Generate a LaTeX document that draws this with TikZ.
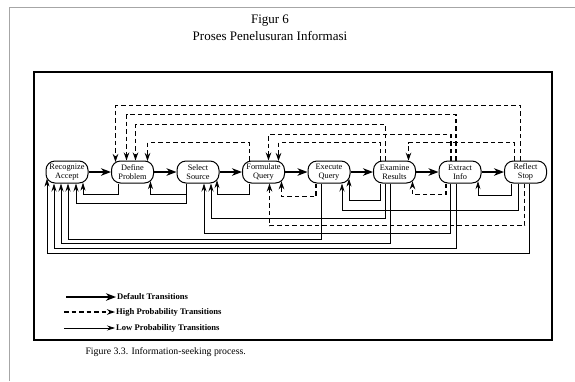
\documentclass[tikz,border=0pt]{standalone}
\usepackage{fontspec}
\setmainfont{Liberation Serif}
\usetikzlibrary{arrows.meta,positioning,calc}
\tikzset{
	>=Stealth,
	stage/.style={
		rectangle,
		draw,
		line width=1pt,
		rounded corners=9pt,
		minimum width=42pt,
		minimum height=22pt,
		inner sep=1pt,
		align=center,
		font=\fontsize{8.3}{8.8}\selectfont
	},
	dflt/.style={
		-{Stealth[length=10pt,width=7.5pt,inset=3pt]},
		line width=1.4pt
	},
	high/.style={
		-{Stealth[length=8pt,width=5.5pt]},
		line width=1.6pt,
		dash pattern=on 4.5pt off 3pt
	},
	low/.style={
		-{Stealth[length=8pt,width=5pt]},
		line width=0.7pt
	}
}

\begin{document}
\begin{tikzpicture}[
	x=1pt, y=-1pt,
	node distance=22.5pt,
	legend/.style={anchor=west, inner sep=1pt,
		font=\fontsize{8.6}{10}\selectfont\bfseries},
	heading/.style={font=\fontsize{13}{15}\selectfont}
	]
	\useasboundingbox (0,0) rectangle (575,381);
	
	%--------------------
	% Page and frame
	%--------------------
	\draw[gray!70, line width=0.9pt] (9,381) -- (9,7) -- (575,7);
	\draw[line width=1.2pt] (34,72) rectangle (552,340);
	
	\node[heading] (figno) at (270,21) {Figur 6};
	\node[heading] (title) at (270,36) {Proses Penelusuran Informasi};
	\node[anchor=west, font=\fontsize{9.8}{11}\selectfont] (caption) at (82,352)
		{Figure 3.3. Information-seeking process.};
	
	%--------------------
	% Stages
	%--------------------
	\node[stage] (ra) at (67,172) {Recognize\\Accept};
	\node[stage, right=of ra] (dp) {Define\\Problem};
	\node[stage, right=of dp] (ss) {Select\\Source};
	\node[stage, right=of ss] (fq) {Formulate\\Query};
	\node[stage, right=of fq] (eq) {Execute\\Query};
	\node[stage, right=of eq] (er) {Examine\\Results};
	\node[stage, right=of er] (ei) {Extract\\Info};
	\node[stage, right=of ei] (rs) {Reflect\\Stop};
	
	%--------------------
	% Default transitions
	%--------------------
	\draw[dflt] (ra) -- (dp);
	\draw[dflt] (dp) -- (ss);
	\draw[dflt] (ss) -- (fq);
	\draw[dflt] (fq) -- (eq);
	\draw[dflt] (eq) -- (er);
	\draw[dflt] (er) -- (ei);
	\draw[dflt] (ei) -- (rs);
	
	%--------------------
	% High probability transitions (above)
	%--------------------
	\draw[high] ([xshift=-5]rs.north) -- ++(0,-55) -| ([xshift=-17,yshift=-1.5]dp.north);
	\draw[high] ([xshift=-4]ei.north) -- ++(0,-46) -| ([xshift=-6]dp.north);
	\draw[high] ([xshift=-9]er.north) -- ++(0,-36) -| ([xshift=3]dp.north);
	\draw[high] ([xshift=-14]fq.north) -- ++(0,-18) -| ([xshift=15,yshift=-0.5]dp.north);
	\draw[high] ([xshift=-9]ei.north) -- ++(0,-26) -| ([xshift=5]fq.north);
	\draw[high] ([xshift=-14]er.north) -- ++(0,-18) -| ([xshift=15,yshift=-0.5]fq.north);
	\draw[high] ([xshift=-11]rs.north) -- ++(0,-18) -| ([xshift=14,yshift=-0.2]er.north);
	
	%--------------------
	% High probability transitions (below)
	%--------------------
	\draw[high] ([xshift=-13]eq.south) -- ++(0,13) -| ([xshift=18,yshift=2.3]fq.south);
	\draw[high] ([xshift=-14]ei.south) -- ++(0,11) -| ([xshift=18,yshift=2.3]er.south);
	\draw[high] ([xshift=-1]rs.south) -- ++(0,42) -| ([xshift=6]fq.south);
	
	%--------------------
	% Low probability transitions
	%--------------------
	\draw[low] ([xshift=-14]dp.south) -- ++(0,11) -| ([xshift=16,yshift=0.9]ra.south);
	\draw[low] ([xshift=-12]ss.south) -- ++(0,11) -| ([xshift=18,yshift=2.3]dp.south);
	\draw[low] ([xshift=-12]ss.south) -- ++(0,20) -| ([xshift=9]ra.south);
	\draw[low] ([xshift=-14]fq.south) -- ++(0,11) -| ([xshift=19,yshift=3.3]ss.south);
	\draw[low] ([xshift=-9]er.south) -- ++(0,35) -| ([xshift=13]ss.south);
	\draw[low] ([xshift=-10]ei.south) -- ++(0,50) -| ([xshift=6]ss.south);
	\draw[low] ([xshift=-8]eq.south) -- ++(0,56) -| ([xshift=1]ra.south);
	\draw[low] ([xshift=-4]er.south) -- ++(0,60) -| ([xshift=-6]ra.south);
	\draw[low] ([xshift=-4]ei.south) -- ++(0,65) -| ([xshift=-13]ra.south);
	\draw[low] ([xshift=4]rs.south) -- ++(0,70) -| ([xshift=-20,yshift=4.9]ra.south);
	\draw[low] ([xshift=-14]er.south) -- ++(0,17) -| ([xshift=20,yshift=4.9]eq.south);
	\draw[low] ([xshift=-7]rs.south) -- ++(0,27) -| ([xshift=13]eq.south);
	\draw[low] ([xshift=-14]rs.south) -- ++(0,12) -| ([xshift=18,yshift=2.3]ei.south);
	
	%--------------------
	% Legend
	%--------------------
	\node[legend] (ldef) at (116,297) {Default Transitions};
	\node[legend] (lhigh) at (115,312) {High Probability Transitions};
	\node[legend] (llow) at (115,328) {Low Probability Transitions};
	
	\coordinate[left=50pt of ldef.west] (sdef);
	\coordinate[left=51pt of lhigh.west] (shigh);
	\coordinate[left=51pt of llow.west] (slow);
	
	\draw[dflt] (sdef) -- (ldef.west);
	\draw[high] (shigh) -- (lhigh.west);
	\draw[low] (slow) -- (llow.west);
	
\end{tikzpicture}
\end{document}
